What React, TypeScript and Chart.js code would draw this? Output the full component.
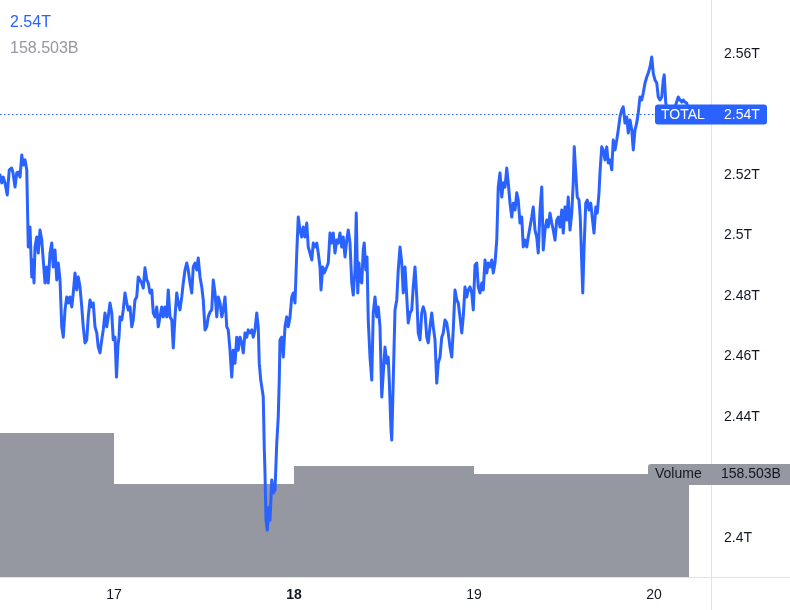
import React, { useEffect, useRef } from "react";
import { Chart, registerables } from "chart.js";

Chart.register(...registerables);

const FONT = "'Liberation Sans', Arial, sans-serif";
const BLUE = "#2962ff";
const GREY = "#9598a1";
const TEXT = "#131722";

// TOTAL crypto market cap: [minutes since Jan 16 00:00, value in trillions USD]
const totalSeries: [number, number][] = [
  [528,2.5200],[542,2.5174],[554,2.5193],[568,2.5174],[586,2.5134],[602,2.5217],[622,2.5223],[632,2.5207],[648,2.5160],[662,2.5207],[674,2.5210],[688,2.5193],[702,2.5266],[714,2.5233],[728,2.5250],[742,2.5217],[750,2.5051],[754,2.4962],[768,2.5028],[782,2.4863],[790,2.4919],[800,2.4843],[808,2.4962],[822,2.4995],[834,2.4942],[848,2.5018],[862,2.4985],[874,2.4919],[888,2.4843],[902,2.4896],[914,2.4843],[928,2.4942],[942,2.4975],[954,2.4896],[968,2.4952],[982,2.4853],[994,2.4909],[1008,2.4853],[1022,2.4698],[1034,2.4664],[1048,2.4754],[1062,2.4797],[1074,2.4777],[1088,2.4797],[1102,2.4764],[1114,2.4810],[1128,2.4876],[1142,2.4820],[1154,2.4863],[1168,2.4830],[1182,2.4764],[1194,2.4698],[1208,2.4645],[1222,2.4655],[1234,2.4731],[1248,2.4787],[1262,2.4764],[1274,2.4777],[1288,2.4698],[1302,2.4678],[1314,2.4631],[1328,2.4612],[1342,2.4655],[1354,2.4688],[1368,2.4744],[1382,2.4698],[1394,2.4731],[1408,2.4777],[1422,2.4744],[1434,2.4655],[1448,2.4664],[1460,2.4532],[1472,2.4638],[1480,2.4664],[1488,2.4731],[1502,2.4721],[1514,2.4754],[1528,2.4810],[1542,2.4777],[1554,2.4754],[1568,2.4764],[1582,2.4698],[1594,2.4721],[1608,2.4787],[1622,2.4797],[1634,2.4863],[1648,2.4853],[1662,2.4843],[1674,2.4826],[1688,2.4893],[1702,2.4853],[1714,2.4843],[1728,2.4810],[1742,2.4820],[1754,2.4744],[1768,2.4731],[1782,2.4764],[1794,2.4698],[1808,2.4731],[1822,2.4764],[1834,2.4731],[1848,2.4764],[1862,2.4731],[1874,2.4820],[1888,2.4731],[1902,2.4721],[1914,2.4628],[1928,2.4731],[1942,2.4810],[1954,2.4777],[1968,2.4754],[1982,2.4797],[1994,2.4843],[2008,2.4886],[2022,2.4909],[2034,2.4886],[2048,2.4843],[2062,2.4810],[2074,2.4896],[2088,2.4909],[2102,2.4886],[2114,2.4926],[2128,2.4863],[2142,2.4830],[2154,2.4787],[2168,2.4688],[2182,2.4698],[2194,2.4731],[2208,2.4747],[2222,2.4754],[2234,2.4853],[2248,2.4810],[2262,2.4731],[2274,2.4797],[2288,2.4777],[2302,2.4731],[2314,2.4754],[2328,2.4797],[2342,2.4698],[2354,2.4688],[2368,2.4621],[2382,2.4532],[2394,2.4621],[2408,2.4578],[2422,2.4664],[2434,2.4621],[2448,2.4664],[2462,2.4645],[2474,2.4612],[2488,2.4678],[2502,2.4664],[2514,2.4688],[2528,2.4678],[2542,2.4688],[2554,2.4664],[2568,2.4688],[2582,2.4744],[2594,2.4698],[2602,2.4578],[2614,2.4522],[2626,2.4489],[2634,2.4466],[2642,2.4301],[2648,2.4215],[2656,2.4059],[2666,2.4026],[2678,2.4102],[2688,2.4059],[2702,2.4192],[2714,2.4149],[2728,2.4159],[2742,2.4314],[2754,2.4400],[2762,2.4522],[2768,2.4655],[2782,2.4664],[2794,2.4598],[2808,2.4698],[2822,2.4731],[2834,2.4698],[2848,2.4731],[2862,2.4797],[2874,2.4810],[2888,2.4777],[2902,2.4942],[2914,2.5061],[2928,2.5018],[2942,2.4995],[2954,2.5028],[2968,2.4995],[2982,2.5041],[2994,2.4962],[3008,2.4942],[3022,2.4919],[3034,2.4975],[3048,2.4962],[3062,2.4975],[3074,2.4942],[3088,2.4896],[3096,2.4820],[3110,2.4896],[3122,2.4876],[3142,2.4896],[3154,2.4909],[3168,2.5008],[3182,2.4975],[3194,2.5008],[3208,2.4942],[3222,2.4985],[3234,2.4975],[3248,2.5008],[3262,2.4962],[3274,2.4995],[3288,2.4929],[3302,2.4985],[3314,2.5018],[3328,2.4975],[3342,2.4843],[3354,2.4803],[3368,2.4886],[3378,2.5074],[3390,2.4810],[3400,2.4909],[3408,2.4853],[3422,2.4843],[3434,2.4952],[3442,2.4975],[3454,2.4886],[3464,2.4929],[3474,2.4721],[3488,2.4598],[3502,2.4522],[3514,2.4744],[3528,2.4797],[3542,2.4731],[3554,2.4764],[3568,2.4698],[3582,2.4466],[3594,2.4545],[3608,2.4631],[3622,2.4578],[3634,2.4598],[3642,2.4522],[3656,2.4357],[3662,2.4324],[3674,2.4522],[3688,2.4754],[3702,2.4787],[3714,2.4886],[3728,2.4962],[3742,2.4909],[3754,2.4810],[3768,2.4896],[3782,2.4797],[3794,2.4711],[3808,2.4744],[3822,2.4754],[3834,2.4830],[3848,2.4896],[3862,2.4797],[3874,2.4678],[3888,2.4655],[3902,2.4744],[3914,2.4764],[3928,2.4744],[3942,2.4664],[3954,2.4645],[3968,2.4698],[3982,2.4744],[3994,2.4698],[4008,2.4655],[4022,2.4512],[4034,2.4578],[4048,2.4598],[4062,2.4664],[4074,2.4678],[4088,2.4721],[4102,2.4711],[4114,2.4678],[4128,2.4631],[4142,2.4598],[4154,2.4688],[4168,2.4820],[4182,2.4787],[4194,2.4777],[4208,2.4731],[4222,2.4678],[4234,2.4731],[4248,2.4830],[4262,2.4797],[4274,2.4820],[4288,2.4830],[4302,2.4810],[4314,2.4754],[4328,2.4902],[4342,2.4909],[4354,2.4830],[4368,2.4810],[4382,2.4843],[4394,2.4820],[4408,2.4919],[4422,2.4876],[4434,2.4909],[4448,2.4896],[4462,2.4919],[4474,2.4876],[4488,2.4909],[4502,2.4985],[4514,2.5160],[4528,2.5207],[4542,2.5127],[4554,2.5174],[4568,2.5160],[4582,2.5223],[4594,2.5174],[4608,2.5107],[4622,2.5061],[4634,2.5107],[4648,2.5084],[4662,2.5141],[4674,2.5117],[4688,2.5041],[4702,2.5061],[4714,2.4962],[4728,2.4985],[4742,2.4962],[4754,2.4995],[4768,2.5028],[4782,2.5061],[4794,2.5094],[4808,2.5018],[4822,2.4995],[4834,2.4942],[4848,2.5084],[4862,2.5160],[4874,2.4952],[4888,2.5018],[4902,2.5051],[4914,2.5028],[4928,2.5074],[4942,2.5041],[4954,2.5018],[4968,2.4985],[4982,2.5051],[4994,2.5061],[5008,2.5028],[5022,2.5084],[5034,2.5008],[5048,2.5094],[5062,2.5051],[5074,2.5127],[5088,2.5018],[5102,2.5074],[5114,2.5174],[5122,2.5293],[5134,2.5207],[5146,2.5127],[5160,2.5117],[5170,2.5061],[5182,2.4909],[5190,2.4810],[5200,2.4952],[5214,2.5107],[5226,2.5117],[5240,2.5084],[5254,2.5107],[5266,2.5061],[5280,2.5008],[5294,2.5094],[5306,2.5074],[5320,2.5141],[5328,2.5210],[5342,2.5293],[5354,2.5283],[5368,2.5250],[5382,2.5293],[5394,2.5240],[5408,2.5250],[5422,2.5217],[5434,2.5316],[5448,2.5283],[5462,2.5316],[5474,2.5349],[5488,2.5392],[5502,2.5415],[5514,2.5425],[5528,2.5372],[5542,2.5392],[5554,2.5339],[5568,2.5382],[5582,2.5349],[5594,2.5283],[5608,2.5349],[5622,2.5372],[5634,2.5405],[5648,2.5458],[5662,2.5448],[5674,2.5471],[5688,2.5504],[5702,2.5524],[5714,2.5537],[5728,2.5557],[5742,2.5590],[5754,2.5537],[5768,2.5514],[5782,2.5504],[5794,2.5458],[5808,2.5448],[5822,2.5458],[5834,2.5514],[5842,2.5531],[5854,2.5438],[5872,2.5408],[5896,2.5421],[5920,2.5415],[5936,2.5435],[5954,2.5458],[5968,2.5448],[5982,2.5441],[5994,2.5448],[6008,2.5441],[6022,2.5438],[6040,2.5400],
];

// Daily volume (billions USD), stepped
const volumeTimes = [0, 1440, 2880, 4320, 5760, 6040];
const volumeValues = [221.6, 143.1, 170.8, 158.5, 158.503, 158.503];

// Axis ticks
const dayTicks = [1440, 2880, 4320, 5760];
const dayLabels = ["17", "18", "19", "20"];
const dayBold = [false, true, false, false];

const priceTicks = [2.4, 2.44, 2.46, 2.48, 2.5, 2.52, 2.56];
const priceLabels = ["2.4T", "2.44T", "2.46T", "2.48T", "2.5T", "2.52T", "2.56T"];

const seriesName = "TOTAL";
const lastValueLabel = "2.54T";
const volumeName = "Volume";
const lastVolumeLabel = "158.503B";

function box(ctx: CanvasRenderingContext2D, x: number, y: number, w: number, h: number, r: number) {
  ctx.beginPath();
  if ((ctx as any).roundRect) (ctx as any).roundRect(x, y, w, h, r);
  else ctx.rect(x, y, w, h);
  ctx.fill();
}

const overlayPlugin = {
  id: "tvOverlay",
  beforeDatasetsDraw(chart: any) {
    const { ctx, chartArea, scales } = chart;
    const last = totalSeries[totalSeries.length - 1][1];
    const py = Math.floor(scales.y.getPixelForValue(last)) + 0.5;
    ctx.save();
    ctx.strokeStyle = BLUE;
    ctx.lineWidth = 1;
    ctx.setLineDash([1.5, 2.5]);
    ctx.beginPath();
    ctx.moveTo(chartArea.left, py);
    ctx.lineTo(chartArea.right, py);
    ctx.stroke();
    ctx.restore();
  },
  afterDraw(chart: any) {
    const { ctx, chartArea, scales } = chart;
    const W = chart.width;
    const H = chart.height;
    ctx.save();
    // pane separators
    ctx.strokeStyle = "#e0e3eb";
    ctx.lineWidth = 1;
    ctx.beginPath();
    ctx.moveTo(chartArea.right + 0.5, 0);
    ctx.lineTo(chartArea.right + 0.5, H);
    ctx.moveTo(0, chartArea.bottom + 0.5);
    ctx.lineTo(W, chartArea.bottom + 0.5);
    ctx.stroke();

    ctx.font = `14px ${FONT}`;
    ctx.textBaseline = "middle";
    ctx.textAlign = "left";

    // last value label
    const last = totalSeries[totalSeries.length - 1][1];
    const py = scales.y.getPixelForValue(last);
    ctx.fillStyle = BLUE;
    box(ctx, chartArea.right - 56, py - 10, 112, 20, 3);
    ctx.fillStyle = "#ffffff";
    ctx.fillText(seriesName, chartArea.right - 50, py + 0.5);
    ctx.fillText(lastValueLabel, chartArea.right + 13, py + 0.5);

    // volume label
    const lastVol = volumeValues[volumeValues.length - 1];
    const vy = scales.y2.getPixelForValue(lastVol);
    ctx.fillStyle = GREY;
    box(ctx, chartArea.right - 63, vy - 10, 150, 21, 3);
    ctx.fillStyle = TEXT;
    ctx.fillText(volumeName, chartArea.right - 56, vy + 0.5);
    ctx.fillText(lastVolumeLabel, chartArea.right + 10, vy + 0.5);

    // legend top-left
    ctx.font = `16px ${FONT}`;
    ctx.fillStyle = BLUE;
    ctx.fillText(lastValueLabel, 10, 22.5);
    ctx.fillStyle = GREY;
    ctx.fillText(lastVolumeLabel, 10, 49);
    ctx.restore();
  },
};

export default function App() {
  const ref = useRef<HTMLCanvasElement>(null);
  useEffect(() => {
    const canvas = ref.current;
    if (!canvas) return;
    const chart = new Chart(canvas, {
      type: "line",
      data: {
        datasets: [
          {
            label: seriesName,
            data: totalSeries.map(([t, v]) => ({ x: t, y: v })),
            borderColor: BLUE,
            borderWidth: 3,
            pointRadius: 0,
            tension: 0,
            yAxisID: "y",
            order: 0,
            borderJoinStyle: "round",
            borderCapStyle: "round",
          } as any,
          {
            label: volumeName,
            data: volumeTimes.map((t, i) => ({ x: t, y: volumeValues[i] })),
            stepped: true,
            borderWidth: 0,
            borderColor: GREY,
            backgroundColor: GREY,
            fill: "origin",
            pointRadius: 0,
            yAxisID: "y2",
            order: 1,
          } as any,
        ],
      },
      options: {
        animation: false,
        responsive: false,
        maintainAspectRatio: false,
        layout: { padding: 0 },
        plugins: { legend: { display: false }, tooltip: { enabled: false } },
        events: [],
        scales: {
          x: {
            type: "linear",
            position: "bottom",
            min: 528,
            max: 6216,
            grid: { display: false, drawTicks: false },
            border: { display: false },
            afterBuildTicks: (scale: any) => {
              scale.ticks = dayTicks.map((v) => ({ value: v }));
            },
            afterFit: (scale: any) => {
              scale.height = 33;
              scale.paddingLeft = 0;
              scale.paddingRight = 0;
            },
            ticks: {
              autoSkip: false,
              maxRotation: 0,
              padding: 10,
              color: TEXT,
              font: (c: any) => ({ family: FONT, size: 14, weight: dayBold[c.index] ? "bold" : "normal" }),
              callback: (_v: any, i: number) => dayLabels[i],
            },
          },
          y: {
            type: "linear",
            position: "right",
            min: 2.38711,
            max: 2.57785,
            grid: { display: false, drawTicks: false },
            border: { display: false },
            afterBuildTicks: (scale: any) => {
              scale.ticks = priceTicks.map((v) => ({ value: v }));
            },
            afterFit: (scale: any) => {
              scale.width = 79;
              scale.paddingTop = 0;
              scale.paddingBottom = 0;
            },
            ticks: {
              autoSkip: false,
              padding: 13,
              color: TEXT,
              font: { family: FONT, size: 14 },
              callback: (_v: any, i: number) => priceLabels[i],
            },
          },
          y2: {
            type: "linear",
            display: false,
            min: 0,
            max: 888,
          },
        },
      } as any,
      plugins: [overlayPlugin],
    });
    return () => chart.destroy();
  }, []);
  return (
    <div style={{ position: "fixed", left: 0, top: 0, width: 790, height: 610, background: "#ffffff" }}>
      <canvas ref={ref} width={790} height={610} style={{ display: "block", width: 790, height: 610 }} />
    </div>
  );
}
